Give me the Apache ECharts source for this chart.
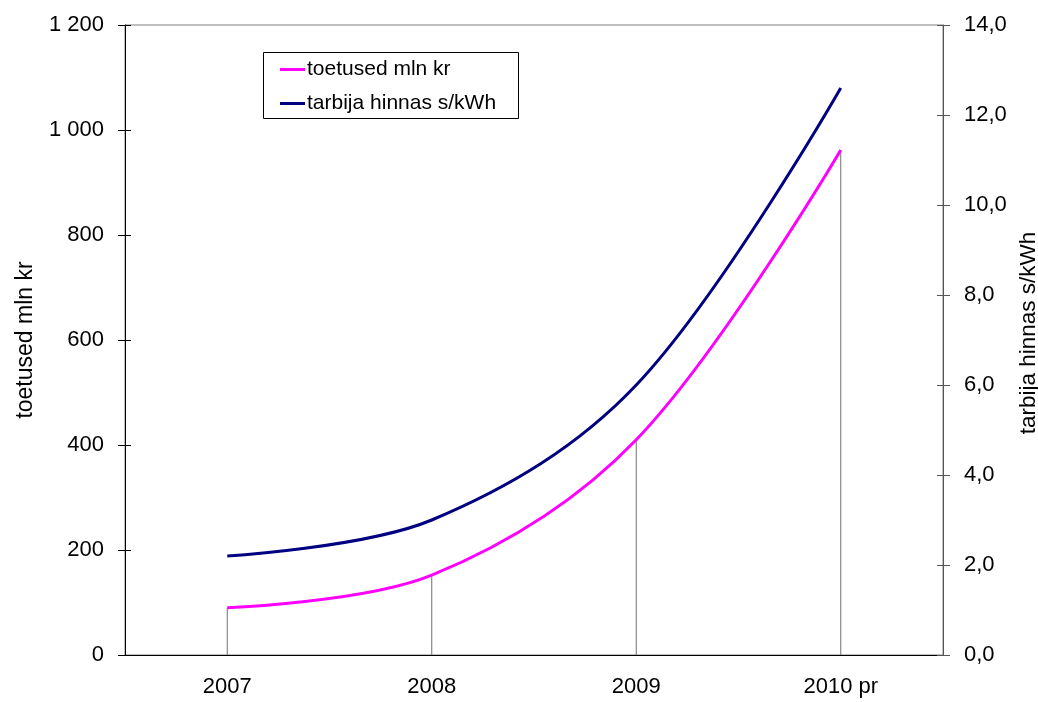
<!DOCTYPE html>
<html>
<head>
<meta charset="utf-8">
<script src="https://cdn.jsdelivr.net/npm/echarts@6/dist/echarts.min.js"></script>
<style>
html,body{margin:0;padding:0;background:#fff;}
#c{width:1038px;height:702px;}
</style>
</head>
<body>
<div id="c"></div>
<script>
const categories = ['2007', '2008', '2009', '2010 pr'];
const toetused = [90, 152, 410, 962];
const tarbijaHinnas = [2.2, 3.0, 6.0, 12.6];
const leftTicks = { min: 0, max: 1200, interval: 200 };
const rightTicks = { min: 0, max: 14, interval: 2 };
const seriesNames = ['toetused mln kr', 'tarbija hinnas s/kWh'];

const FONT = 'Liberation Sans, Arial, sans-serif';
const chart = echarts.init(document.getElementById('c'));

const fmtLeft = v => String(v).replace(/\B(?=(\d{3})+(?!\d))/g, ' ');
const fmtRight = v => v.toFixed(1).replace('.', ',');

chart.setOption({
  backgroundColor: '#fff',
  animation: false,
  textStyle: { fontFamily: FONT },
  grid: { left: 125, right: 95, top: 25, bottom: 47, show: true, borderColor: '#808080', borderWidth: 1,
          containLabel: false, outerBoundsMode: 'none' },
  legend: {
    orient: 'vertical',
    left: 280,
    top: 59,
    padding: 0,
    data: seriesNames,
    icon: 'rect',
    itemWidth: 25,
    itemHeight: 3,
    itemGap: 13,
    textStyle: { fontSize: 21, color: '#000', fontFamily: FONT, padding: [0, 0, 0, -3] }
  },
  graphic: [{
    type: 'rect',
    left: 261, top: 50,
    shape: { width: 255, height: 66 },
    style: { fill: 'none', stroke: '#000', lineWidth: 1 },
    z: 100
  }],
  xAxis: {
    type: 'category',
    data: categories,
    boundaryGap: true,
    axisLine: { lineStyle: { color: '#000', width: 1 } },
    axisTick: { show: false },
    axisLabel: { fontSize: 22, color: '#000', margin: 21, fontFamily: FONT },
    splitLine: { show: false }
  },
  yAxis: [
    {
      type: 'value', position: 'left', min: leftTicks.min, max: leftTicks.max, interval: leftTicks.interval,
      name: 'toetused mln kr', nameLocation: 'middle', nameGap: 88, nameRotate: 90,
      nameTextStyle: { fontSize: 23, color: '#000', fontFamily: FONT },
      axisLine: { show: true, lineStyle: { color: '#000' } },
      axisTick: { show: true, length: 7, lineStyle: { color: '#000' } },
      axisLabel: { fontSize: 22, color: '#000', margin: 21, formatter: fmtLeft, fontFamily: FONT },
      splitLine: { show: false }
    },
    {
      type: 'value', position: 'right', min: rightTicks.min, max: rightTicks.max, interval: rightTicks.interval,
      name: 'tarbija hinnas s/kWh', nameLocation: 'middle', nameGap: 70, nameRotate: 90,
      nameTextStyle: { fontSize: 22.5, color: '#000', fontFamily: FONT, padding: [0, 0, 0, 14] },
      axisLine: { show: true, lineStyle: { color: '#555' } },
      axisTick: { show: true, length: 7, lineStyle: { color: '#555' } },
      axisLabel: { fontSize: 22, color: '#000', margin: 21, formatter: fmtRight, fontFamily: FONT },
      splitLine: { show: false }
    },
    {
      type: 'value', position: 'left', min: leftTicks.min, max: leftTicks.max, interval: leftTicks.interval,
      axisLine: { show: false },
      axisTick: { show: true, inside: true, length: 6, lineStyle: { color: '#000' } },
      axisLabel: { show: false },
      splitLine: { show: false }
    },
    {
      type: 'value', position: 'right', min: rightTicks.min, max: rightTicks.max, interval: rightTicks.interval,
      axisLine: { show: false },
      axisTick: { show: true, inside: true, length: 6, lineStyle: { color: '#555' } },
      axisLabel: { show: false },
      splitLine: { show: false }
    }
  ],
  series: [
    {
      name: 'drop',
      type: 'bar',
      yAxisIndex: 0,
      data: toetused,
      barWidth: 1,
      itemStyle: { color: '#707070' },
      silent: true,
      z: 1
    },
    {
      name: seriesNames[0],
      type: 'line',
      yAxisIndex: 0,
      data: toetused,
      smooth: 0.35,
      showSymbol: false,
      symbol: 'none',
      lineStyle: { color: '#FF00FF', width: 3 },
      itemStyle: { color: '#FF00FF' },
      z: 3
    },
    {
      name: seriesNames[1],
      type: 'line',
      yAxisIndex: 1,
      data: tarbijaHinnas,
      smooth: 0.35,
      showSymbol: false,
      symbol: 'none',
      lineStyle: { color: '#000080', width: 3 },
      itemStyle: { color: '#000080' },
      z: 3
    }
  ]
});
</script>
</body>
</html>
